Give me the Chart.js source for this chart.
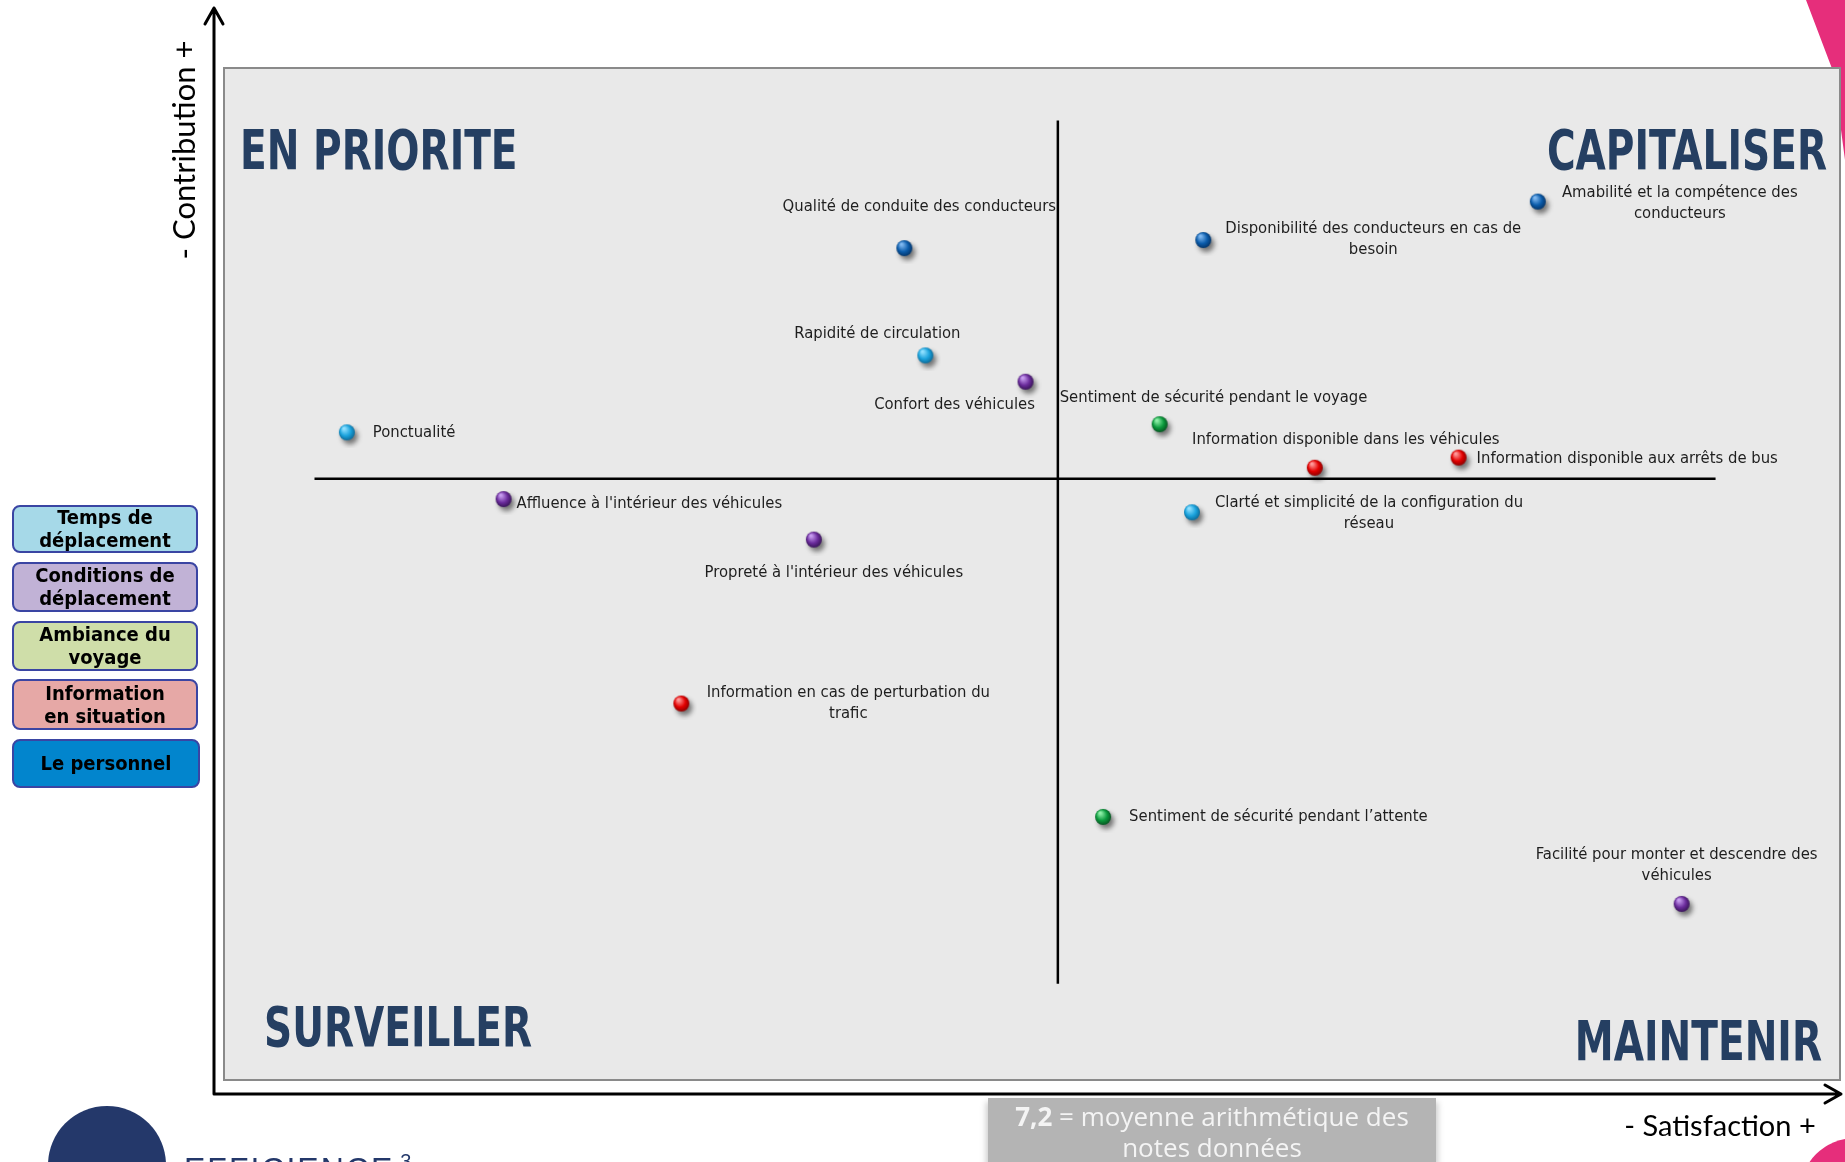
<!DOCTYPE html>
<html lang="fr">
<head>
<meta charset="utf-8">
<title>Matrice satisfaction / contribution</title>
<script src="https://cdn.jsdelivr.net/npm/chart.js@4.4.0/dist/chart.umd.min.js"></script>
<style>
    html, body { margin: 0; padding: 0; background: #fff; }
    body { width: 1845px; height: 1162px; position: relative; overflow: hidden; font-family: "DejaVu Sans Condensed", sans-serif; }
    #matrix { position: absolute; left: 0; top: 0; z-index: 2; }
    .deco { position: absolute; z-index: 1; }
    #pinkTop { left: 1806px; top: 0; width: 39px; height: 160px; background: #e62e7b; clip-path: polygon(0 0, 100% 0, 100% 100%, 70% 45%); }
    #pinkBottom { left: 1800px; top: 1138px; width: 110px; height: 110px; border-radius: 50%; background: #e62e7b; }
    #logo { left: 48px; top: 1106px; width: 118px; height: 118px; border-radius: 50%; background: #24386a; }
    #logoText { position: absolute; left: 184px; top: 1145px; z-index: 3; color: #24386a; font-family: "Liberation Sans", sans-serif; font-size: 32px; line-height: 32px; letter-spacing: 2px; }
    #logoText sup { font-size: 20px; letter-spacing: 0; margin-left: 6px; }
    .cat { position: absolute; z-index: 3; left: 12px; width: 186px; box-sizing: border-box; border: 2px solid #3a45a3; border-radius: 8px;
           display: flex; align-items: center; justify-content: center; text-align: center; font-weight: bold; font-size: 20px; line-height: 23px; color: #000; }
    #mean { position: absolute; z-index: 3; left: 988px; top: 1098px; width: 448px; height: 70px; padding-top: 3px; background: #b4b4b4; color: #f4f4f4;
            font-family: "Open Sans", sans-serif; font-size: 26px; line-height: 31px; text-align: center; box-shadow: -6px 0 6px -4px #ccc, 6px 0 6px -4px #ccc; }
</style>
</head>
<body>
<div class="deco" id="pinkTop"></div>
<div class="deco" id="pinkBottom"></div>
<div class="deco" id="logo"></div>
<div id="logoText">EFFICIENCE<sup>3</sup></div>
<canvas id="matrix" width="1845" height="1162"></canvas>
<div id="mean"><b>7,2</b> = moyenne arithmétique des<br>notes données</div>
<script>
// Critères évalués (satisfaction en abscisse, contribution en ordonnée, échelle relative 0-100)
const criteria = [
    "Qualité de conduite des conducteurs",
    "Disponibilité des conducteurs en cas de\nbesoin",
    "Amabilité et la compétence des\nconducteurs",
    "Rapidité de circulation",
    "Confort des véhicules",
    "Sentiment de sécurité pendant le voyage",
    "Information disponible dans les véhicules",
    "Information disponible aux arrêts de bus",
    "Ponctualité",
    "Affluence à l'intérieur des véhicules",
    "Clarté et simplicité de la configuration du\nréseau",
    "Propreté à l'intérieur des véhicules",
    "Information en cas de perturbation du\ntrafic",
    "Sentiment de sécurité pendant l’attente",
    "Facilité pour monter et descendre des\nvéhicules"
];
const satisfaction = [42.1, 60.6, 81.3, 43.4, 49.6, 57.9, 67.5, 76.4, 7.6, 17.3, 59.9, 36.5, 28.3, 54.4, 90.2];
const contribution = [82.2, 83.0, 86.8, 71.6, 69.0, 64.8, 60.5, 61.5, 64.0, 57.4, 56.1, 53.4, 37.2, 26.0, 17.4];
const criterionCategory = [4, 4, 4, 0, 1, 2, 3, 3, 0, 1, 0, 1, 3, 2, 1];

const categories = ["Temps de\ndéplacement", "Conditions de\ndéplacement", "Ambiance du\nvoyage", "Information\nen situation", "Le personnel"];

// Lignes des moyennes
const meanSatisfaction = 51.6;
const meanContribution = 59.4;
const verticalSpan = [9.5, 94.8];
const horizontalSpan = [5.6, 92.3];

// Styles
const boxColors = ["#a6d9e8", "#c1b2d6", "#cfdea9", "#e6a8a6", "#0285cd"];
const boxTops = [505, 562, 621, 679, 739];
const boxHeights = [48, 50, 50, 51, 49];
const dotColors = [
    ["#8fe0ff", "#1aa2dc", "#0b5f8a"],
    ["#c79cf0", "#6b2c9c", "#2e0f4a"],
    ["#8ef0a8", "#0c9a3d", "#04461a"],
    ["#ff9a9a", "#e30000", "#7a0000"],
    ["#7fb8f0", "#0b5cab", "#032d5c"]
];
// [alignement, dx, dy] du libellé par rapport au point
const labelLayout = [
    ["center", 15, -41], ["center", 170, -11], ["center", 142, -9], ["center", -48, -22],
    ["center", -71, 23], ["left", -100, -27], ["center", 31, -28], ["left", 18, 1],
    ["left", 26, 0], ["left", 13, 5], ["center", 177, -10], ["center", 20, 33],
    ["center", 167, -11], ["left", 26, 0], ["center", -5, -49]
];

// Category boxes
categories.forEach((name, i) => {
    const box = document.createElement("div");
    box.className = "cat";
    box.style.top = boxTops[i] + "px";
    box.style.height = boxHeights[i] + "px";
    box.style.background = boxColors[i];
    if (i === 4) box.style.width = "188px";
    box.innerHTML = name.replace("\n", "<br>");
    document.body.appendChild(box);
});

function sphere(colors) {
    const c = document.createElement("canvas");
    c.width = 32; c.height = 32;
    const g = c.getContext("2d");
    g.shadowColor = "rgba(0,0,0,0.5)";
    g.shadowBlur = 5;
    g.shadowOffsetX = 3;
    g.shadowOffsetY = 4;
    const grad = g.createRadialGradient(13, 12, 1, 16, 16, 9);
    grad.addColorStop(0, colors[0]);
    grad.addColorStop(0.55, colors[1]);
    grad.addColorStop(1, colors[2]);
    g.beginPath();
    g.arc(16, 16, 8, 0, Math.PI * 2);
    g.fillStyle = grad;
    g.fill();
    return c;
}

const pointSets = categories.map((name, ci) => {
    const idx = criteria.map((_, i) => i).filter(i => criterionCategory[i] === ci);
    return {
        label: name.replace("\n", " "),
        data: idx.map(i => ({ x: satisfaction[i], y: contribution[i], id: i })),
        pointStyle: sphere(dotColors[ci]),
        order: 0
    };
});

const lineSets = [
    { data: verticalSpan.map(v => ({ x: meanSatisfaction, y: v })) },
    { data: horizontalSpan.map(v => ({ x: v, y: meanContribution })) }
].map(d => Object.assign(d, { showLine: true, borderColor: "#000", borderWidth: 2.5, pointRadius: 0, order: 10 }));

function squeezedText(ctx, text, x, y, sx) {
    ctx.save();
    ctx.translate(x, y);
    ctx.scale(sx, 1);
    ctx.fillText(text, 0, 0);
    ctx.restore();
}

const decorPlugin = {
    id: "decor",
    beforeDatasetsDraw(chart) {
        const ctx = chart.ctx;
        const a = chart.chartArea;
        ctx.save();
        // panel
        ctx.fillStyle = "#e9e9e9";
        ctx.fillRect(a.left, a.top, a.right - a.left, a.bottom - a.top);
        ctx.strokeStyle = "#8a8a8a";
        ctx.lineWidth = 2;
        ctx.strokeRect(a.left, a.top, a.right - a.left, a.bottom - a.top);

        // axes arrows
        ctx.strokeStyle = "#000";
        ctx.lineWidth = 3;
        ctx.lineCap = "round";
        ctx.lineJoin = "round";
        ctx.beginPath();
        ctx.moveTo(214, 1094); ctx.lineTo(214, 8);
        ctx.moveTo(205, 24); ctx.lineTo(214, 8); ctx.lineTo(223, 24);
        ctx.moveTo(214, 1094); ctx.lineTo(1841, 1094);
        ctx.moveTo(1825, 1085); ctx.lineTo(1841, 1094); ctx.lineTo(1825, 1103);
        ctx.stroke();

        // quadrant titles
        ctx.fillStyle = "#253f62";
        ctx.font = "bold 55px 'DejaVu Sans Condensed', sans-serif";
        ctx.textBaseline = "middle";
        ctx.textAlign = "left";
        squeezedText(ctx, "EN PRIORITE", 240, 155, 0.79);
        squeezedText(ctx, "SURVEILLER", 264, 1032, 0.79);
        ctx.textAlign = "right";
        squeezedText(ctx, "CAPITALISER", 1827, 155, 0.79);
        squeezedText(ctx, "MAINTENIR", 1822, 1046, 0.79);

        // axis titles
        ctx.fillStyle = "#000";
        ctx.textAlign = "center";
        ctx.font = "29px Lato, sans-serif";
        ctx.fillText("- Satisfaction +", 1720, 1127);
        ctx.font = "31px Lato, sans-serif";
        ctx.translate(185, 150);
        ctx.rotate(-Math.PI / 2);
        ctx.fillText("- Contribution +", 0, 0);
        ctx.restore();
    },
    afterDatasetsDraw(chart) {
        const ctx = chart.ctx;
        ctx.save();
        ctx.fillStyle = "#1e1e1e";
        ctx.font = "16.5px 'DejaVu Sans Condensed', sans-serif";
        ctx.textBaseline = "middle";
        chart.data.datasets.forEach((ds, di) => {
            if (ds.showLine) return;
            const meta = chart.getDatasetMeta(di);
            meta.data.forEach((pt, j) => {
                const id = ds.data[j].id;
                const [align, dx, dy] = labelLayout[id];
                ctx.textAlign = align;
                criteria[id].split("\n").forEach((line, k) => {
                    ctx.fillText(line, pt.x + dx, pt.y + dy + k * 21);
                });
            });
        });
        ctx.restore();
    }
};

new Chart(document.getElementById("matrix").getContext("2d"), {
    type: "scatter",
    data: { datasets: pointSets.concat(lineSets) },
    options: {
        responsive: false,
        animation: false,
        layout: { padding: { left: 224, right: 4, top: 68, bottom: 82 } },
        scales: {
            x: { type: "linear", min: 0, max: 100, display: false },
            y: { type: "linear", min: 0, max: 100, display: false }
        },
        plugins: { legend: { display: false }, tooltip: { enabled: false } }
    },
    plugins: [decorPlugin]
});
</script>
</body>
</html>
